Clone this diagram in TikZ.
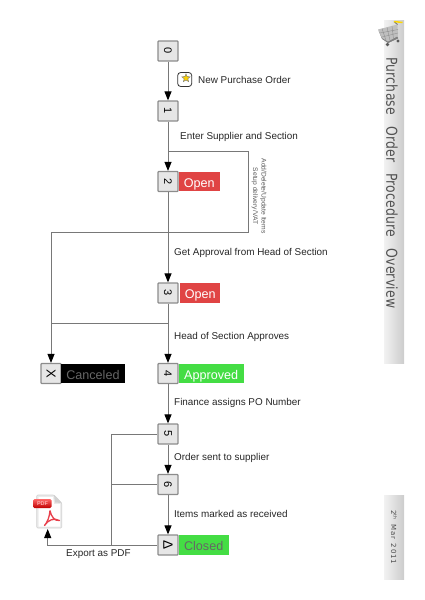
\documentclass[tikz,border=0pt]{standalone}
\usepackage{fontspec}
\setmainfont{Liberation Sans}
\newfontfamily\sidefont[LetterSpace=2,WordSpace=2.6]{DejaVu Sans}
\newfontfamily\datefont[LetterSpace=12,WordSpace=1.5]{DejaVu Sans}
\usetikzlibrary{arrows.meta}
\definecolor{lineg}{HTML}{787878}
\definecolor{boxg}{HTML}{E6E6E6}
\definecolor{boxe}{HTML}{8C8C8C}
\definecolor{openred}{HTML}{E04444}
\definecolor{okgreen}{HTML}{44DD44}
\definecolor{pdfred}{HTML}{E8404C}
\tikzset{
  x=1pt,y=-1pt,
  stepbox/.style={draw=boxe,fill=boxg,line width=1.2pt,rounded corners=0.8pt,minimum width=20pt,minimum height=20pt,inner sep=0pt},
  stepnum/.style={rotate=-90,inner sep=0pt,font=\fontsize{11}{11}\selectfont,text=black},
  tag/.style={anchor=west,inner sep=0pt,minimum height=19.5pt,text height=11pt,text depth=0pt,font=\fontsize{12.6}{13}\selectfont,align=center},
  lab/.style={anchor=west,inner sep=0pt,yshift=-1.2pt,font=\fontsize{9.9}{12}\selectfont,text=black!85},
  flow/.style={draw=lineg,line width=1pt,-{Triangle[length=9pt,width=7pt,fill=black,color=black]}},
  wire/.style={draw=lineg,line width=1pt},
  sidebar/.style={left color=white!95!black,right color=black!20,draw=none}
}
\begin{document}
\begin{tikzpicture}
\useasboundingbox (0,0) rectangle (424,600);
% side bars
\shade[sidebar] (384,20) rectangle (404,363);
\shade[sidebar] (384,495) rectangle (404,579);
\node[rotate=-90,xscale=0.827,anchor=west,inner sep=0pt,font=\fontsize{15}{15}\selectfont\sidefont,text=black!68] (title) at (392,57) {Purchase Order Procedure Overview};
\node[rotate=-90,anchor=west,inner sep=0pt,font=\fontsize{7}{7}\selectfont\datefont,text=black!70] (date) at (394,510) {2\raisebox{2.5pt}{\fontsize{4.5}{4.5}\selectfont th} Mar 2011};
% cart
\fill[black!50] (378.5,30.5) -- (397,36) -- (398,38) -- (388,43) -- (382,39) -- cycle;
\fill[black!25] (378,29.5) -- (397.5,24.5) -- (398,36) -- (388,41.5) -- (382,38) -- cycle;
\draw[black!45,line width=0.35pt] (382,28.5) -- (386,40.5) (387,27.3) -- (390,40.5) (392,26) -- (393.5,39) (380,33) -- (398,29.5) (382,37) -- (398,33);
\draw[black!55,line width=0.9pt] (397.5,24.5) -- (394,21.5);
\draw[black!50,line width=0.9pt] (388,42.5) -- (398,38);
\draw[yellow!75!orange,line width=1.5pt] (394,21.5) -- (402.5,22.5);
\fill[black!65] (387.5,44.5) circle (1.8pt) (398,41) circle (1.6pt);
% steps
\node[stepbox] (s0) at (168,51) {};
\node[stepbox] (s1) at (168,111) {};
\node[stepbox] (s2) at (168,181.5) {};
\node[stepbox] (s3) at (168,293) {};
\node[stepbox] (s4) at (168,373.5) {};
\node[stepbox] (sx) at (51,373.5) {};
\node[stepbox] (s5) at (168,434) {};
\node[stepbox] (s6) at (168,484.5) {};
\node[stepbox] (sd) at (168,545) {};
\node[stepnum] at (s0) {0};
\node[stepnum] at (s1) {1};
\node[stepnum] at (s2) {2};
\node[stepnum] at (s3) {3};
\node[stepnum] at (s4) {4};
\node[stepnum,font=\fontsize{13}{13}\selectfont] at (sx) {X};
\node[stepnum] at (s5) {5};
\node[stepnum] at (s6) {6};
\node[stepnum,font=\fontsize{13.5}{13.5}\selectfont] at (sd) {Δ};
% tags
\node[tag,fill=openred,text=white,minimum width=41pt] (t2) at (178.5,181.5) {Open};
\node[tag,fill=openred,text=white,minimum width=40pt] (t3) at (180,293) {Open};
\node[tag,fill=black,text=black!60,minimum width=63.5pt] (tx) at (61,373.5) {Canceled};
\node[tag,fill=okgreen,text=white,minimum width=65pt] (t4) at (178.5,373.5) {Approved};
\node[tag,fill=okgreen,text=black!60,minimum width=50pt] (td) at (178.5,545) {Closed};
% star icon
\node[draw=black!80,fill=white,rounded corners=3pt,line width=0.8pt,minimum width=14pt,minimum height=14pt,inner sep=0pt] (star) at (184.7,79.5) {};
\fill[yellow!70!orange,draw=black!55,line width=0.4pt] (186,73.8) -- (187.1,76.6) -- (190.2,76.8) -- (187.8,78.7) -- (188.6,81.6) -- (186,80) -- (183.4,81.6) -- (184.2,78.7) -- (181.8,76.8) -- (184.9,76.6) -- cycle;
% labels
\node[lab] (l0) at (198,79) {New Purchase Order};
\node[lab] (l1) at (180,136) {Enter Supplier and Section};
\node[lab] (l2) at (174,252) {Get Approval from Head of Section};
\node[lab] (l3) at (174,335.5) {Head of Section Approves};
\node[lab] (l4) at (174,402) {Finance assigns PO Number};
\node[lab] (l5) at (174,456.5) {Order sent to supplier};
\node[lab] (l6) at (174,513) {Items marked as received};
\node[lab] (l7) at (66,553) {Export as PDF};
\node[rotate=-90,inner sep=0pt,align=center,font=\fontsize{6.7}{8.5}\selectfont,text=black!65] (l8) at (259,196) {Add/Delete/Update Items\\Setup delivery/VAT};
% pdf icon
\fill[black!8,draw=black!18,line width=0.6pt,rounded corners=1pt] (36.7,495) -- (54,495) -- (61.7,503) -- (61.7,528) -- (36.7,528) -- cycle;
\fill[black!18] (54,495) -- (55,502.5) -- (61.7,503) -- cycle;
\fill[white] (38.5,497) -- (53,497) -- (54,504) -- (60,504) -- (60,526.5) -- (38.5,526.5) -- cycle;
\shade[top color=red!60!white,bottom color=red!75!black,rounded corners=1.5pt] (33,499) rectangle (51.7,508);
\node[inner sep=0pt,font=\bfseries\fontsize{5.5}{5.5}\selectfont,text=white!70!red] (pdft) at (42.5,503.7) {PDF};
\draw[pdfred,line width=1.3pt,line join=round] (50,510.5) .. controls (49.5,517) and (47.5,522) .. (44.5,525.5) .. controls (48,520) and (54,517.5) .. (59.5,520.5) .. controls (55,521.5) and (51,516.5) .. (50,510.5);
\coordinate (pdfin) at (47.7,529);
% connectors
\draw[flow] (s0) -- (s1);
\draw[flow] (s1) -- (s2);
\draw[flow] (s2) -- (s3);
\draw[flow] (s3) -- (s4);
\draw[flow] (s4) -- (s5);
\draw[flow] (s5) -- (s6);
\draw[flow] (s6) -- (sd);
\coordinate (loopa) at (168,151);
\coordinate (loopb) at (168,232.3);
\coordinate (branch3) at (168,323);
\draw[wire] (loopa) -| (248.5,232.3) -- (loopb) -- (51,232.3) -- (51,323);
\draw[wire] (branch3) -- (51,323);
\draw[flow] (51,323) -- (sx);
\draw[wire] (s5) -- (111,434) -- (111,545);
\draw[wire] (s6) -- (111,484.5);
\draw[flow] (sd) -| (pdfin);
\end{tikzpicture}
\end{document}
